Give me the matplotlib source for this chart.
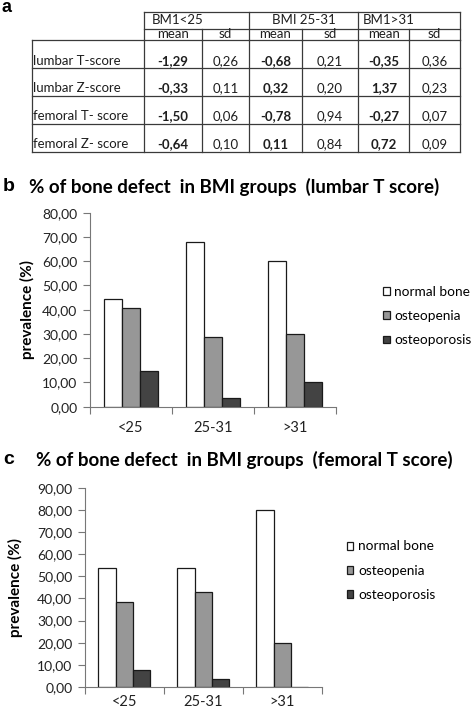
import matplotlib
matplotlib.use("Agg")
import matplotlib.pyplot as plt
import numpy as np

plt.rcParams['font.family'] = ['Lato', 'DejaVu Sans']

# table data (panel a)
bmi_groups = ["BM1<25", "BMI 25-31", "BM1>31"]
row_labels = ["lumbar T-score", "lumbar Z-score", "femoral T- score", "femoral Z- score"]
means = [["-1,29", "-0,68", "-0,35"],
         ["-0,33", "0,32", "1,37"],
         ["-1,50", "-0,78", "-0,27"],
         ["-0,64", "0,11", "0,72"]]
sds = [["0,26", "0,21", "0,36"],
       ["0,11", "0,20", "0,23"],
       ["0,06", "0,94", "0,07"],
       ["0,10", "0,84", "0,09"]]

# bar data (panels b, c)
categories = ["<25", "25-31", ">31"]
series = ["normal bone", "osteopenia", "osteoporosis"]
lumbar = [[44.44, 67.86, 60.0],
          [40.74, 28.57, 30.0],
          [14.81, 3.57, 10.0]]
femoral = [[53.85, 53.57, 80.0],
           [38.46, 42.86, 20.0],
           [7.69, 3.57, 0.0]]
colors = ["white", "#979797", "#434343"]

W, H = 472, 713
fig = plt.figure(figsize=(W / 100, H / 100), dpi=100)

# ---- panel a: table drawn in pixel space
tab = fig.add_axes([0, 0, 1, 1])
tab.set_xlim(0, W)
tab.set_ylim(H, 0)
tab.axis("off")
lc = "#3a3a3a"
lw = 0.9
col_x = [32.3, 144.3, 201.7, 249.3, 301.7, 358.3, 409.3, 460]
row_y = [40, 68.3, 96, 124, 151.7]
tab.plot([144.3, 460], [12.3, 12.3], color=lc, lw=lw)
tab.plot([144.3, 460], [29, 29], color=lc, lw=lw)
for x in [144.3, 249.3, 358.3, 460]:
    tab.plot([x, x], [12.3, 40], color=lc, lw=lw)
for x in [201.7, 301.7, 409.3]:
    tab.plot([x, x], [29, 40], color=lc, lw=lw)
for y in row_y:
    tab.plot([32.3, 460], [y, y], color=lc, lw=lw)
for x in col_x:
    tab.plot([x, x], [40, 151.7], color=lc, lw=lw)

tfs = 9.5
tc = "#1e1e1e"
tab.text(151.7, 20.5, bmi_groups[0], fontsize=tfs, va="center", ha="left", color=tc)
tab.text(303.8, 20.5, bmi_groups[1], fontsize=tfs, va="center", ha="center", color=tc)
tab.text(363, 20.5, bmi_groups[2], fontsize=tfs, va="center", ha="left", color=tc)
for g in range(3):
    xm = (col_x[1 + 2 * g] + col_x[2 + 2 * g]) / 2
    xs = (col_x[2 + 2 * g] + col_x[3 + 2 * g]) / 2
    tab.text(xm, 34.2, "mean", fontsize=tfs, va="center", ha="center", color=tc)
    tab.text(xs, 34.2, "sd", fontsize=tfs, va="center", ha="center", color=tc)
for r, lab in enumerate(row_labels):
    yc = row_y[r + 1] - 7.5
    tab.text(33, yc, lab, fontsize=tfs, va="center", ha="left", color=tc)
    for g in range(3):
        xm = (col_x[1 + 2 * g] + col_x[2 + 2 * g]) / 2
        xs = (col_x[2 + 2 * g] + col_x[3 + 2 * g]) / 2
        tab.text(xm, yc, means[r][g], fontsize=tfs, va="center", ha="center",
                 fontweight="bold", color=tc)
        tab.text(xs, yc, sds[r][g], fontsize=tfs, va="center", ha="center", color=tc)

fig.text(2 / W, 1 - 7 / H, "a", fontsize=13, fontweight="bold",
         family="Liberation Sans", va="center", ha="left")


def bar_panel(rect, data, ymax, title, title_x, letter, title_y, leg_anchor, ylab_x, xpad):
    ax = fig.add_axes(rect)
    x = np.arange(len(categories))
    bw = 0.22
    for i, s in enumerate(series):
        ax.bar(x + (i - 1) * bw, data[i], bw, color=colors[i], edgecolor="#1a1a1a",
               linewidth=0.9, label=s)
    ax.set_xlim(-0.5, len(categories) - 0.5)
    ax.set_ylim(0, ymax)
    ticks = np.arange(0, ymax + 1, 10)
    ax.set_yticks(ticks)
    ax.set_yticklabels([f"{v:.2f}".replace(".", ",") for v in ticks])
    ax.set_xticks(np.arange(-0.5, len(categories), 1))
    ax.set_xticklabels([])
    ax.set_xticks(x, minor=True)
    ax.set_xticklabels(categories, minor=True)
    ax.tick_params(axis="x", which="minor", length=0, pad=xpad, labelsize=10.5, labelcolor="#222")
    ax.tick_params(axis="x", which="major", length=5, color="#777")
    ax.tick_params(axis="y", length=5, color="#777", labelsize=10, labelcolor="#222", pad=4)
    for sp in ["top", "right"]:
        ax.spines[sp].set_visible(False)
    for sp in ["left", "bottom"]:
        ax.spines[sp].set_color("#777")
    ax.set_ylabel("prevalence (%)", fontsize=11, fontweight="bold")
    ax.yaxis.set_label_coords(ylab_x, 0.5)
    ax.legend(loc="center left", bbox_to_anchor=leg_anchor, frameon=False,
              fontsize=9.8, handlelength=0.5, handleheight=0.5,
              handletextpad=0.35, labelspacing=0.9, borderaxespad=0, borderpad=0)
    fig.text(title_x / W, title_y, title, fontsize=13.5, fontweight="bold", va="center", ha="left")
    fig.text(3 / W, title_y, letter, fontsize=14, fontweight="bold",
             family="Liberation Sans", va="center", ha="left")
    return ax


bar_panel([90 / W, (H - 406.7) / H, 246 / W, 194 / H], lumbar, 80,
          "% of bone defect  in BMI groups  (lumbar T score)", 29, "b",
          1 - 186.5 / H, (1.19, 0.4675), -0.225, 10)
bar_panel([85 / W, (H - 687) / H, 236.7 / W, 199.3 / H], femoral, 90,
          "% of bone defect  in BMI groups  (femoral T score)", 36.5, "c",
          1 - 460 / H, (1.105, 0.5835), -0.26, 6)

fig.savefig("out.png", dpi=100)
